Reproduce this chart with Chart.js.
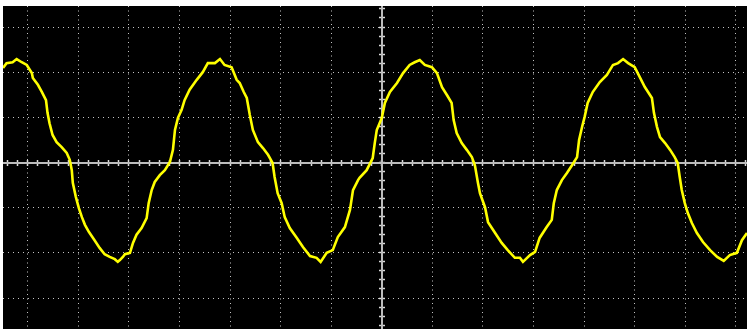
<!DOCTYPE html>
<html>
<head>
<meta charset="utf-8">
<script src="https://cdn.jsdelivr.net/npm/chart.js@4"></script>
<style>
  html, body { margin: 0; padding: 0; background: #ffffff; width: 747px; height: 329px; overflow: hidden; }
  #wrap { position: absolute; left: 3px; top: 6px; width: 744px; height: 323px; background: #000000; }
</style>
</head>
<body>
<div id="wrap"><canvas id="c"></canvas></div>
<script>
// Time in divisions (0 = screen centre), amplitude in divisions
const timeDiv = [
  -7.49,-7.42,-7.30,-7.22,-7.12,-7.02,-6.92,-6.90,-6.80,-6.72,-6.64,-6.61,-6.57,-6.51,-6.43,-6.33,-6.23,-6.17,-6.13,-6.11,
  -6.05,-5.99,-5.93,-5.87,-5.79,-5.68,-5.58,-5.48,-5.38,-5.28,-5.22,-5.18,-5.12,-5.08,-4.98,-4.92,-4.85,-4.75,-4.65,-4.61,
  -4.55,-4.49,-4.39,-4.29,-4.19,-4.13,-4.09,-4.03,-3.96,-3.90,-3.80,-3.66,-3.54,-3.44,-3.30,-3.20,-3.11,-2.97,-2.87,-2.81,
  -2.73,-2.67,-2.61,-2.55,-2.45,-2.35,-2.25,-2.16,-2.12,-2.06,-1.98,-1.92,-1.82,-1.68,-1.56,-1.42,-1.29,-1.21,-1.09,-0.97,
  -0.87,-0.73,-0.63,-0.57,-0.47,-0.44,-0.30,-0.18,-0.14,-0.10,0.00,0.06,0.16,0.30,0.42,0.55,0.65,0.75,0.85,0.99,
  1.09,1.19,1.29,1.38,1.42,1.48,1.58,1.68,1.78,1.84,1.90,1.94,2.04,2.10,2.24,2.37,2.49,2.63,2.73,2.79,
  2.93,3.03,3.12,3.26,3.36,3.40,3.46,3.56,3.66,3.76,3.86,3.90,3.96,4.01,4.07,4.17,4.31,4.45,4.57,4.67,
  4.77,4.87,5.00,5.10,5.20,5.34,5.38,5.44,5.50,5.60,5.70,5.79,5.85,5.89,5.93,5.99,6.05,6.13,6.23,6.35,
  6.49,6.63,6.76,6.88,7.02,7.12,7.22
];
const ch1Div = [
  2.09,2.20,2.22,2.29,2.22,2.16,1.98,1.87,1.72,1.56,1.38,1.10,0.87,0.61,0.45,0.34,0.21,0.06,-0.17,-0.45,
  -0.76,-1.01,-1.21,-1.38,-1.54,-1.72,-1.89,-2.03,-2.09,-2.14,-2.20,-2.16,-2.09,-2.03,-2.00,-1.78,-1.60,-1.45,-1.23,-0.90,
  -0.61,-0.43,-0.28,-0.17,0.01,0.28,0.72,0.99,1.16,1.38,1.61,1.83,2.00,2.20,2.20,2.29,2.16,2.11,1.83,1.76,
  1.56,1.43,1.05,0.72,0.45,0.32,0.17,-0.01,-0.32,-0.68,-0.90,-1.21,-1.45,-1.67,-1.87,-2.07,-2.11,-2.20,-2.00,-1.94,
  -1.65,-1.43,-1.05,-0.61,-0.39,-0.34,-0.17,0.10,0.43,0.72,0.99,1.32,1.56,1.76,1.98,2.16,2.22,2.27,2.16,2.11,
  1.98,1.67,1.49,1.32,0.94,0.65,0.43,0.28,0.12,-0.06,-0.45,-0.68,-0.99,-1.32,-1.56,-1.78,-1.94,-2.11,-2.11,-2.20,
  -2.05,-1.98,-1.67,-1.43,-1.27,-0.90,-0.61,-0.39,-0.23,-0.06,0.12,0.50,0.79,1.01,1.32,1.56,1.78,1.94,2.16,2.20,
  2.29,2.20,2.11,1.89,1.67,1.43,1.10,0.79,0.56,0.43,0.28,0.12,-0.01,-0.32,-0.61,-0.90,-1.12,-1.34,-1.56,-1.76,
  -1.94,-2.09,-2.18,-2.05,-2.00,-1.72,-1.56
];
// Graticule
const xGridDivs = [-7,-6,-5,-4,-3,-2,-1,0,1,2,3,4,5,6,7];
const yGridDivs = [-3,-2,-1,0,1,2,3];
const xRange = [-7.49, 7.22];
const yRange = [-3.686, 3.465];
const subdivisions = 5;

function minorTicks(range) {
  const out = [];
  const kMin = Math.ceil(range[0] * subdivisions);
  const kMax = Math.floor(range[1] * subdivisions);
  for (let k = kMin; k <= kMax; k++) out.push({ value: k / subdivisions });
  return out;
}

const points = timeDiv.map((t, i) => ({ x: t, y: ch1Div[i] }));

const gridColor = '#c4c4c4';
const axisColor = '#bcbcbc';
const tickColor = '#dadada';

const hiddenTicks = { display: false, autoSkip: false };

new Chart(document.getElementById('c'), {
  type: 'scatter',
  data: {
    datasets: [{
      data: points,
      showLine: true,
      borderColor: '#ffff00',
      borderWidth: 2.6,
      pointRadius: 0,
      tension: 0,
      xAxisID: 'x',
      yAxisID: 'y'
    }]
  },
  options: {
    responsive: true,
    maintainAspectRatio: false,
    animation: false,
    events: [],
    layout: { padding: 0 },
    plugins: { legend: { display: false }, tooltip: { enabled: false } },
    scales: {
      x: {
        type: 'linear', position: 'bottom', min: xRange[0], max: xRange[1],
        ticks: hiddenTicks,
        afterBuildTicks: s => { s.ticks = xGridDivs.map(v => ({ value: v })); },
        grid: { color: gridColor, lineWidth: 1, drawTicks: false },
        border: { display: false, dash: [1, 3.5] }
      },
      y: {
        type: 'linear', position: 'left', min: yRange[0], max: yRange[1],
        ticks: hiddenTicks,
        afterBuildTicks: s => { s.ticks = yGridDivs.map(v => ({ value: v })); },
        grid: { color: gridColor, lineWidth: 1, drawTicks: false },
        border: { display: false, dash: [1, 4] }
      },
      xc: {
        type: 'linear', axis: 'x', position: { y: 0 }, min: xRange[0], max: xRange[1],
        ticks: hiddenTicks,
        afterBuildTicks: s => { s.ticks = [{ value: 0 }]; },
        grid: { display: false, drawOnChartArea: false, drawTicks: false },
        border: { display: true, color: axisColor, width: 2 }
      },
      yc: {
        type: 'linear', axis: 'y', position: { x: 0 }, min: yRange[0], max: yRange[1],
        ticks: hiddenTicks,
        afterBuildTicks: s => { s.ticks = [{ value: 0 }]; },
        grid: { display: false, drawOnChartArea: false, drawTicks: false },
        border: { display: true, color: axisColor, width: 2 }
      },
      xt: {
        type: 'linear', axis: 'x', position: { y: 0.066 }, min: xRange[0], max: xRange[1],
        ticks: hiddenTicks,
        afterBuildTicks: s => { s.ticks = minorTicks(xRange); },
        grid: { display: true, drawOnChartArea: false, drawTicks: true, tickLength: 6, tickWidth: 1.5, tickColor: tickColor, lineWidth: 1 },
        border: { display: false }
      },
      yt: {
        type: 'linear', axis: 'y', position: { x: 0.059 }, min: yRange[0], max: yRange[1],
        ticks: hiddenTicks,
        afterBuildTicks: s => { s.ticks = minorTicks(yRange); },
        grid: { display: true, drawOnChartArea: false, drawTicks: true, tickLength: 6, tickWidth: 1.5, tickColor: tickColor, lineWidth: 1 },
        border: { display: false }
      }
    }
  }
});
</script>
</body>
</html>
